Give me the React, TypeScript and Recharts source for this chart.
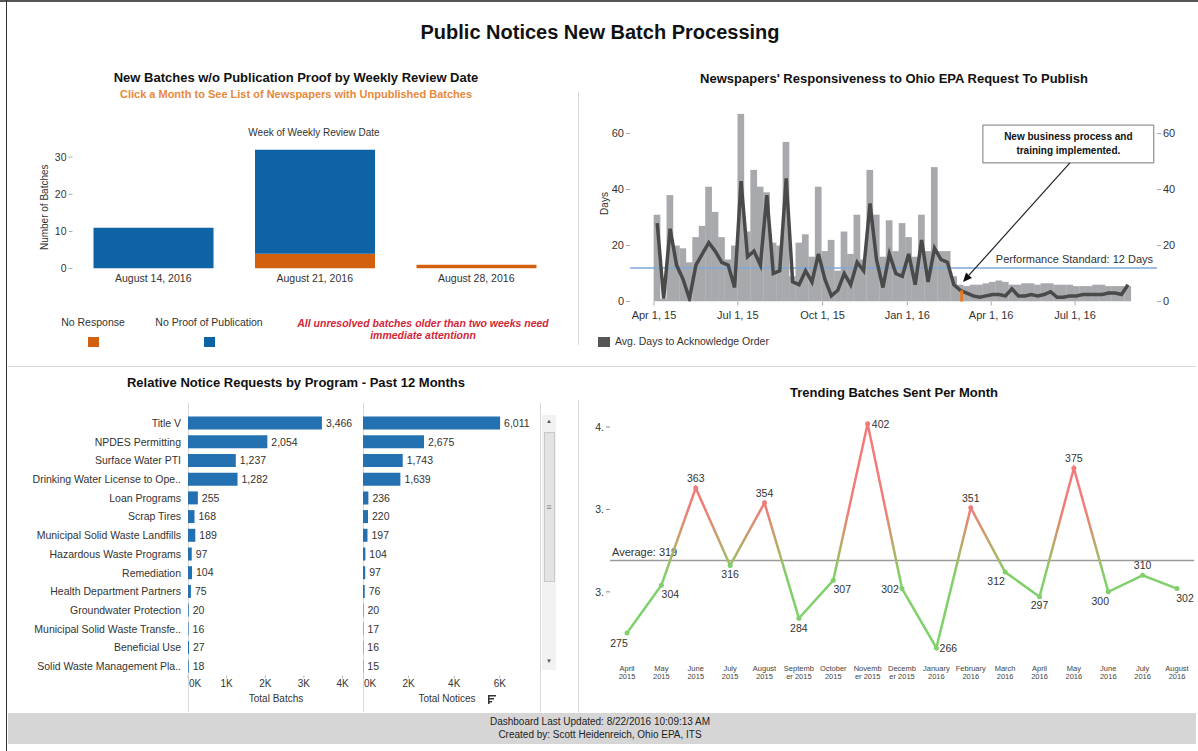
import React from "react";
import {
  BarChart,
  Bar,
  ComposedChart,
  Line,
  LineChart,
  XAxis,
  YAxis,
  ReferenceLine,
  ReferenceArea,
  LabelList,
} from "recharts";

const SANS = 'Arial, "Liberation Sans", sans-serif';
const NARROW = '"Liberation Sans Narrow", "Arial Narrow", Arial, "Liberation Sans", sans-serif';
const INK = "#333";

// new batches w/o publication proof
const reviewWeeks = ["August 14, 2016", "August 21, 2016", "August 28, 2016"];
const noResponse = [0, 4, 1];
const noProofOfPublication = [11, 28, 0];

// newspapers' responsiveness, one value per week from Apr 1, 2015
const weekStart = "2015-04-01";
const avgDaysBars = [
  31, 1, 38, 20, 19, 14, 23, 27, 41, 32, 23, 15, 20, 67, 25, 47, 41, 39, 21, 20,
  57, 9, 21, 24, 16, 41, 18, 22, 11, 25, 17, 31, 15, 47, 31, 16, 29, 18, 28, 23,
  16, 31, 18, 48, 18, 18, 9, 6, 5.5, 6, 6, 6.5, 7, 7.5, 7, 6, 6, 6.5, 6.5, 6,
  6.5, 6.5, 6, 6, 6, 5.5, 5.5, 5.5, 6, 6, 5.5, 5.5, 5.5, 5.5,
];
const avgDaysTrend = [
  28, 1, 26, 13, 8, 1, 13, 17, 21, 18, 14, 13, 5, 43, 16, 18, 13, 38, 10, 11,
  44, 7, 6, 11, 7, 17, 8, 2, 4, 10, 6, 14, 11, 35, 15, 5, 17, 10, 9, 17,
  6, 22, 7, 19, 15, 14, 6, 4, 3, 2, 1.5, 2, 2.5, 2.5, 2, 4.5, 2, 2, 2.5, 2,
  2.5, 3.5, 1.5, 1.5, 2, 2, 2.5, 2.5, 2.5, 2.5, 3, 3, 2.5, 6,
];
const perfStandard = 12;
const implDate = "2016-02-29";
const implMark = 4;
const quarterTicks = [
  ["2015-04-01", "Apr 1, 15"],
  ["2015-07-01", "Jul 1, 15"],
  ["2015-10-01", "Oct 1, 15"],
  ["2016-01-01", "Jan 1, 16"],
  ["2016-04-01", "Apr 1, 16"],
  ["2016-07-01", "Jul 1, 16"],
];

// relative notice requests by program
const programs = [
  "Title V",
  "NPDES Permitting",
  "Surface Water PTI",
  "Drinking Water License to Ope..",
  "Loan Programs",
  "Scrap Tires",
  "Municipal Solid Waste Landfills",
  "Hazardous Waste Programs",
  "Remediation",
  "Health Department Partners",
  "Groundwater Protection",
  "Municipal Solid Waste Transfe..",
  "Beneficial Use",
  "Solid Waste Management Pla..",
];
const totalBatches = [3466, 2054, 1237, 1282, 255, 168, 189, 97, 104, 75, 20, 16, 27, 18];
const totalNotices = [6011, 2675, 1743, 1639, 236, 220, 197, 104, 97, 76, 20, 17, 16, 15];

// trending batches sent per month
const months = [
  "April\n2015", "May\n2015", "June\n2015", "July\n2015", "August\n2015",
  "Septemb\ner 2015", "October\n2015", "Novemb\ner 2015", "Decemb\ner 2015",
  "January\n2016", "February\n2016", "March\n2016", "April\n2016", "May\n2016",
  "June\n2016", "July\n2016", "August\n2016",
];
const batchesSent = [275, 304, 363, 316, 354, 284, 307, 402, 302, 266, 351, 312, 297, 375, 300, 310, 302];

const reviewRows = reviewWeeks.map((w, i) => ({
  week: w,
  noResponse: noResponse[i],
  noProof: noProofOfPublication[i],
}));

const DAY = 864e5;
const weekPos = (d: string) => (Date.parse(d) - Date.parse(weekStart)) / (7 * DAY) - 0.5;
const weeklyRows = avgDaysBars.map((v, i) => ({ week: i, avg: v, trend: avgDaysTrend[i] }));
const quarterPos = quarterTicks.map((t) => weekPos(t[0]));
const quarterLabel = (v: number) => {
  const i = quarterPos.findIndex((p) => Math.abs(p - v) < 1e-6);
  return i >= 0 ? quarterTicks[i][1] : "";
};
const implWeek = weekPos(implDate);

const programRows = programs.map((p, i) => ({
  program: p,
  batches: totalBatches[i],
  notices: totalNotices[i],
}));

const trendRows = months.map((m, i) => ({ month: m, sent: batchesSent[i] }));
const avgSent = Math.round(batchesSent.reduce((a, b) => a + b, 0) / batchesSent.length);
const maxSent = Math.max(...batchesSent);
const minSent = Math.min(...batchesSent);
const gradOffset = (v: number) => (maxSent - v) / (maxSent - minSent);

const fmt = (v: any) => Number(v).toLocaleString("en-US");

const vLabel = (text: string, dx: number) => (props: any) => {
  const vb = props.viewBox;
  const cx = vb.x + dx;
  const cy = vb.y + vb.height / 2;
  return (
    <text
      x={cx}
      y={cy}
      transform={`rotate(-90 ${cx} ${cy})`}
      textAnchor="middle"
      dominantBaseline="central"
      fontSize={10}
      fill={INK}
      fontFamily={SANS}
    >
      {text}
    </text>
  );
};

const perfLabel = (props: any) => {
  const vb = props.viewBox;
  return (
    <text x={vb.x + vb.width - 4} y={vb.y - 5} textAnchor="end" fontSize={11} fill={INK} fontFamily={SANS}>
      Performance Standard: 12 Days
    </text>
  );
};

const noteLabel = (props: any) => {
  const vb = props.viewBox;
  const cx = vb.x + vb.width / 2;
  return (
    <g fontSize={10} fontWeight="bold" fill="#111" fontFamily={SANS} textAnchor="middle">
      <text x={cx} y={vb.y + 15}>New business process and</text>
      <text x={cx} y={vb.y + 29}>training implemented.</text>
    </g>
  );
};

const arrowShape = (p: any) => {
  const { x1, y1, x2, y2 } = p;
  const a = Math.atan2(y2 - y1, x2 - x1);
  const L = 9;
  const W = 4;
  const bx = x2 - L * Math.cos(a);
  const by = y2 - L * Math.sin(a);
  const pts = `${x2},${y2} ${bx + W * Math.sin(a)},${by - W * Math.cos(a)} ${bx - W * Math.sin(a)},${by + W * Math.cos(a)}`;
  return (
    <g>
      <line x1={x1} y1={y1} x2={bx} y2={by} stroke="#222" strokeWidth={1.2} />
      <polygon points={pts} fill="#111" />
    </g>
  );
};

// weekly bars touch each other, as in Tableau
const WeekBar = (p: any) => {
  const w = 6.7;
  const cx = p.x + p.width / 2;
  if (!p.height) return <g />;
  return <rect x={cx - w / 2} y={p.y} width={w} height={p.height} fill={p.fill} />;
};

const avgLabel = (props: any) => {
  const vb = props.viewBox;
  return (
    <text x={vb.x + 2} y={vb.y - 5} fontSize={11} fill={INK} fontFamily={SANS}>
      {`Average: ${avgSent}`}
    </text>
  );
};

const MonthTick = (p: any) => {
  const [a, b] = String(p.payload.value).split("\n");
  return (
    <g fontSize={7.5} fill="#444" fontFamily={NARROW} textAnchor="middle">
      <text x={p.x} y={p.y + 16}>{a}</text>
      <text x={p.x} y={p.y + 24}>{b}</text>
    </g>
  );
};

// program names are drawn on one line, no wrapping
const ProgramTick = (p: any) => (
  <text
    x={p.x}
    y={p.y}
    textAnchor="end"
    dominantBaseline="central"
    fontSize={10.5}
    fill={INK}
    fontFamily={SANS}
  >
    {p.payload.value}
  </text>
);

// first "0K" is pushed right of the axis, like Tableau does
const KTick = (p: any) => {
  const v = p.payload.value;
  const first = v === 0;
  return (
    <text
      x={first ? p.x + 1 : p.x}
      y={p.y}
      dy="0.71em"
      textAnchor={first ? "start" : "middle"}
      fontSize={10}
      fill={INK}
      fontFamily={SANS}
    >
      {`${v / 1000}K`}
    </text>
  );
};

const dotColor = (v: number) => (v >= 340 ? "#f07b7b" : v >= 322 ? "#b8aa66" : "#80cf6b");

const trendDot = (p: any) => (
  <circle key={`dot-${p.index}`} cx={p.cx} cy={p.cy} r={2.5} fill={dotColor(p.value)} />
);

// where each monthly value label sits around its point
const labelShift = [
  [-8, 10], [9, 9], [0, -10], [0, 9], [0, -10], [0, 10], [9, 9], [13, 0], [-12, 0],
  [12, 0], [0, -10], [-9, 9], [0, 8], [0, -10], [-8, 9], [0, -10], [8, 9],
];

const trendLabel = (p: any) => {
  const s = labelShift[p.index] || [0, -10];
  return (
    <text
      key={`lab-${p.index}`}
      x={p.x + s[0]}
      y={p.y + s[1]}
      textAnchor="middle"
      dominantBaseline="central"
      fontSize={10.5}
      fill={INK}
      fontFamily={SANS}
    >
      {p.value}
    </text>
  );
};

const Txt = ({ x, y, children, style }: any) => (
  <div
    style={{
      position: "absolute",
      left: x,
      top: y,
      transform: "translate(-50%, -50%)",
      whiteSpace: "nowrap",
      lineHeight: 1.2,
      ...style,
    }}
  >
    {children}
  </div>
);

const Rule = ({ x, y, w, h, c }: any) => (
  <div style={{ position: "absolute", left: x, top: y, width: w, height: h, background: c }} />
);

const titleStyle = { fontSize: 13, fontWeight: "bold", color: "#111", fontFamily: SANS };

export default function App() {
  return (
    <div
      style={{
        position: "absolute",
        left: 0,
        top: 0,
        width: 1198,
        height: 751,
        background: "#fff",
        fontFamily: SANS,
        color: INK,
        overflow: "hidden",
      }}
    >
      <Rule x={0} y={0} w={1198} h={1.5} c="#555" />
      <Rule x={6} y={0} w={1} h={751} c="#333" />
      <Rule x={8} y={366} w={1188} h={1} c="#dadada" />
      <Rule x={578} y={92} w={1} h={253} c="#dadada" />
      <Rule x={578} y={400} w={1} h={312} c="#dadada" />
      <Rule x={188} y={403} w={1} h={309} c="#dadada" />
      <Rule x={363} y={403} w={1} h={309} c="#dadada" />
      <Rule x={540} y={403} w={1} h={309} c="#dadada" />

      <Txt x={600} y={32} style={{ fontSize: 20, fontWeight: "bold", color: "#111", fontFamily: NARROW }}>
        Public Notices New Batch Processing
      </Txt>

      {/* top left */}
      <Txt x={296} y={78} style={titleStyle}>
        New Batches w/o Publication Proof by Weekly Review Date
      </Txt>
      <Txt x={296} y={95} style={{ fontSize: 11, fontWeight: "bold", color: "#e8893a" }}>
        Click a Month to See List of Newspapers with Unpublished Batches
      </Txt>
      <Txt x={314} y={133} style={{ fontSize: 10, fontFamily: NARROW }}>
        Week of Weekly Review Date
      </Txt>
      <div style={{ position: "absolute", left: 0, top: 130 }}>
        <BarChart
          width={580}
          height={170}
          data={reviewRows}
          margin={{ top: 16, right: 23, bottom: 11.5, left: 32.5 }}
          barSize={120}
        >
          <XAxis
            dataKey="week"
            axisLine={false}
            tickLine={false}
            tickSize={0}
            tickMargin={6}
            height={20}
            interval={0}
            tick={{ fontSize: 10.5, fill: INK, fontFamily: SANS }}
          />
          <YAxis
            domain={[0, 33]}
            ticks={[0, 10, 20, 30]}
            allowDataOverflow
            width={40}
            axisLine={false}
            tickSize={4}
            tickLine={{ stroke: "#aaa" }}
            tick={{ fontSize: 10.5, fill: INK, fontFamily: SANS }}
            label={vLabel("Number of Batches", 11.5)}
          />
          <Bar dataKey="noResponse" stackId="s" fill="#d2600e" isAnimationActive={false} />
          <Bar dataKey="noProof" stackId="s" fill="#0e63a5" isAnimationActive={false} />
        </BarChart>
      </div>
      <Txt x={93} y={322} style={{ fontSize: 10.5 }}>No Response</Txt>
      <Rule x={88} y={337} w={11} h={10} c="#d2600e" />
      <Txt x={209} y={322} style={{ fontSize: 10.5 }}>No Proof of Publication</Txt>
      <Rule x={204} y={337} w={11} h={10} c="#0e63a5" />
      <div
        style={{
          position: "absolute",
          left: 423,
          top: 329,
          transform: "translate(-50%, -50%)",
          textAlign: "center",
          whiteSpace: "nowrap",
          fontSize: 10.5,
          lineHeight: "12px",
          fontStyle: "italic",
          fontWeight: "bold",
          color: "#d3263a",
        }}
      >
        All unresolved batches older than two weeks need
        <br />
        immediate attentionn
      </div>

      {/* top right */}
      <Txt x={894} y={79} style={titleStyle}>
        Newspapers' Responsiveness to Ohio EPA Request To Publish
      </Txt>
      <div style={{ position: "absolute", left: 580, top: 95 }}>
        <ComposedChart
          width={618}
          height={240}
          data={weeklyRows}
          margin={{ top: 10.5, right: 11, bottom: 13.5, left: 20 }}
        >
          <XAxis
            dataKey="week"
            type="number"
            domain={[-4.22, 77.5]}
            allowDataOverflow
            ticks={quarterPos}
            tickFormatter={quarterLabel}
            interval={0}
            axisLine={false}
            tickSize={4}
            tickMargin={6}
            tickLine={{ stroke: "#aaa" }}
            height={20}
            tick={{ fontSize: 11, fill: INK, fontFamily: SANS }}
          />
          <YAxis
            yAxisId="left"
            domain={[0, 70]}
            ticks={[0, 20, 40, 60]}
            allowDataOverflow
            width={30}
            axisLine={false}
            tickSize={4}
            tickLine={{ stroke: "#aaa" }}
            tick={{ fontSize: 11, fill: INK, fontFamily: SANS }}
            label={vLabel("Days", 4)}
          />
          <YAxis
            yAxisId="right"
            orientation="right"
            domain={[0, 70]}
            ticks={[0, 20, 40, 60]}
            allowDataOverflow
            width={30}
            axisLine={false}
            tickSize={4}
            tickLine={{ stroke: "#aaa" }}
            tick={{ fontSize: 11, fill: INK, fontFamily: SANS }}
          />
          <Bar
            yAxisId="left"
            dataKey="avg"
            fill="#a7a9ac"
            barSize={6}
            shape={WeekBar}
            isAnimationActive={false}
          />
          <ReferenceLine
            yAxisId="left"
            y={perfStandard}
            stroke="#7ea8da"
            strokeWidth={1.5}
            label={perfLabel}
          />
          <Line
            yAxisId="right"
            dataKey="trend"
            type="linear"
            stroke="#4a4a4a"
            strokeWidth={3.5}
            dot={false}
            isAnimationActive={false}
          />
          <ReferenceLine
            yAxisId="left"
            segment={[
              { x: implWeek, y: 0 },
              { x: implWeek, y: implMark },
            ]}
            stroke="#e8781f"
            strokeWidth={3}
          />
          <ReferenceArea
            yAxisId="left"
            x1={50.5}
            x2={77}
            y1={49.5}
            y2={63}
            fill="#fff"
            fillOpacity={1}
            stroke="#777"
            strokeWidth={1}
            label={noteLabel}
          />
          <ReferenceLine
            yAxisId="left"
            segment={[
              { x: 64, y: 49.5 },
              { x: implWeek + 0.2, y: 7 },
            ]}
            shape={arrowShape}
          />
        </ComposedChart>
      </div>
      <Rule x={598} y={337} w={12} h={10} c="#555" />
      <div style={{ position: "absolute", left: 615, top: 335, fontSize: 10.5, whiteSpace: "nowrap" }}>
        Avg. Days to Acknowledge Order
      </div>

      {/* bottom left */}
      <Txt x={296} y={383} style={titleStyle}>
        Relative Notice Requests by Program - Past 12 Months
      </Txt>
      <div style={{ position: "absolute", left: 0, top: 405 }}>
        <BarChart
          layout="vertical"
          width={370}
          height={305}
          data={programRows}
          margin={{ top: 8.6, right: 12, bottom: 12.6, left: 5 }}
          barSize={13}
        >
          <XAxis
            type="number"
            domain={[0, 4400]}
            ticks={[0, 1000, 2000, 3000, 4000]}
            allowDataOverflow
            axisLine={false}
            tickSize={3}
            tickMargin={1}
            tickLine={{ stroke: "#bbb" }}
            height={22}
            interval={0}
            tick={<KTick />}
          />
          <YAxis
            type="category"
            dataKey="program"
            width={183}
            axisLine={false}
            tickLine={false}
            tickSize={0}
            tickMargin={7}
            interval={0}
            tick={<ProgramTick />}
          />
          <Bar dataKey="batches" fill="#2471b2" isAnimationActive={false}>
            <LabelList
              dataKey="batches"
              position="right"
              offset={4}
              formatter={fmt}
              style={{ fontSize: 10.5, fill: INK, fontFamily: SANS }}
            />
          </Bar>
        </BarChart>
      </div>
      <div style={{ position: "absolute", left: 363, top: 405 }}>
        <BarChart
          layout="vertical"
          width={180}
          height={305}
          data={programRows}
          margin={{ top: 8.6, right: 4.4, bottom: 12.6, left: 0 }}
          barSize={13}
        >
          <XAxis
            type="number"
            domain={[0, 7700]}
            ticks={[0, 2000, 4000, 6000]}
            allowDataOverflow
            axisLine={false}
            tickSize={3}
            tickMargin={1}
            tickLine={{ stroke: "#bbb" }}
            height={22}
            interval={0}
            tick={<KTick />}
          />
          <YAxis type="category" dataKey="program" hide width={0} />
          <Bar dataKey="notices" fill="#2471b2" isAnimationActive={false}>
            <LabelList
              dataKey="notices"
              position="right"
              offset={4}
              formatter={fmt}
              style={{ fontSize: 10.5, fill: INK, fontFamily: SANS }}
            />
          </Bar>
        </BarChart>
      </div>
      <Txt x={276} y={699} style={{ fontSize: 10 }}>Total Batchs</Txt>
      <Txt x={447} y={699} style={{ fontSize: 10 }}>Total Notices</Txt>
      <svg style={{ position: "absolute", left: 487, top: 694 }} width={10} height={10}>
        <rect x={1} y={1} width={8} height={1.5} fill="#333" />
        <rect x={1} y={4} width={6} height={1.5} fill="#333" />
        <rect x={1} y={7} width={4} height={1.5} fill="#333" />
        <rect x={1} y={1} width={1.5} height={9} fill="#333" />
      </svg>
      {/* scroll bar */}
      <div
        style={{
          position: "absolute",
          left: 542,
          top: 415,
          width: 14,
          height: 255,
          background: "#f2f2f2",
        }}
      />
      <div
        style={{
          position: "absolute",
          left: 544,
          top: 432,
          width: 9,
          height: 148,
          background: "#e3e3e3",
          border: "1px solid #c9c9c9",
        }}
      />
      <Txt x={549} y={422} style={{ fontSize: 6, color: "#555" }}>▲</Txt>
      <Txt x={549} y={662} style={{ fontSize: 6, color: "#555" }}>▼</Txt>
      <Txt x={549} y={507} style={{ fontSize: 9, color: "#888" }}>≡</Txt>

      {/* bottom right */}
      <Txt x={894} y={393} style={titleStyle}>
        Trending Batches Sent Per Month
      </Txt>
      <div style={{ position: "absolute", left: 580, top: 400 }}>
        <LineChart
          width={618}
          height={285}
          data={trendRows}
          margin={{ top: 13.8, right: 4, bottom: 0.5, left: 8 }}
        >
          <defs>
            <linearGradient id="trendStroke" x1="0" y1="0" x2="0" y2="1">
              <stop offset={gradOffset(402)} stopColor="#f47a7a" />
              <stop offset={gradOffset(350)} stopColor="#f07c78" />
              <stop offset={gradOffset(336)} stopColor="#cf9a6c" />
              <stop offset={gradOffset(322)} stopColor="#a9b766" />
              <stop offset={gradOffset(310)} stopColor="#80cf6a" />
              <stop offset={gradOffset(266)} stopColor="#7fd36b" />
            </linearGradient>
          </defs>
          <XAxis
            dataKey="month"
            interval={0}
            axisLine={false}
            tickLine={false}
            tickSize={0}
            tickMargin={0}
            height={30}
            padding={{ left: 17, right: 17 }}
            tick={<MonthTick />}
          />
          <YAxis
            domain={[262, 408]}
            ticks={[300, 350, 400]}
            allowDataOverflow
            width={22}
            axisLine={false}
            tickSize={4}
            tickLine={{ stroke: "#888" }}
            tickFormatter={(v: number) => `${Math.floor(v / 100)}.`}
            tick={{ fontSize: 10.5, fill: INK, fontFamily: SANS }}
          />
          <ReferenceLine y={avgSent} stroke="#9a9a9a" strokeWidth={1.5} label={avgLabel} />
          <Line
            dataKey="sent"
            type="linear"
            stroke="url(#trendStroke)"
            strokeWidth={2.5}
            dot={trendDot}
            isAnimationActive={false}
          >
            <LabelList dataKey="sent" content={trendLabel} />
          </Line>
        </LineChart>
      </div>

      {/* footer */}
      <Rule x={8} y={713} w={1188} h={31} c="#d6d6d6" />
      <Txt x={600} y={722} style={{ fontSize: 10, fontFamily: NARROW, color: "#222" }}>
        Dashboard Last Updated: 8/22/2016 10:09:13 AM
      </Txt>
      <Txt x={600} y={735} style={{ fontSize: 10, fontFamily: NARROW, color: "#222" }}>
        Created by: Scott Heidenreich, Ohio EPA, ITS
      </Txt>
    </div>
  );
}
